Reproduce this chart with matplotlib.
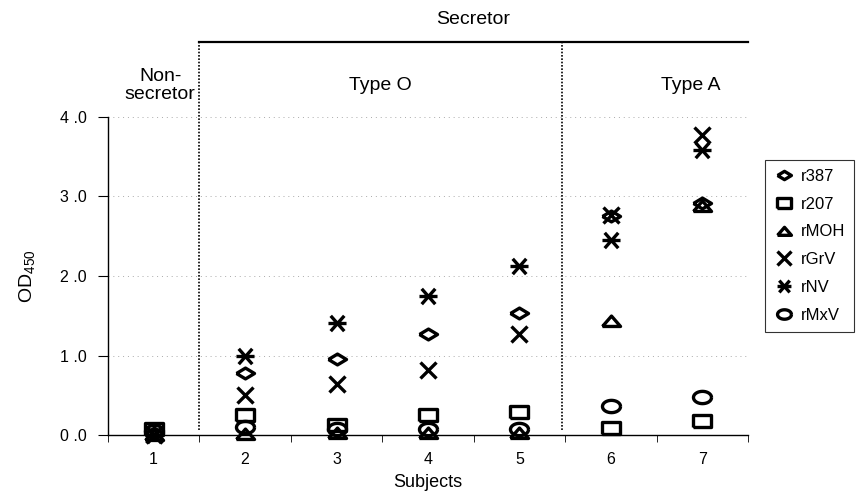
import numpy as np
import matplotlib
matplotlib.use("Agg")
import matplotlib.pyplot as plt
import matplotlib.transforms as mtrans
from matplotlib.path import Path

plt.rcParams['font.family'] = ['Liberation Sans', 'DejaVu Sans']

subjects = [1, 2, 3, 4, 5, 6, 7]
r387 = [0.02, 0.78, 0.95, 1.27, 1.54, 2.75, 2.92]
r207 = [0.08, 0.25, 0.12, 0.25, 0.29, 0.09, 0.18]
rMOH = [0.0, 0.01, 0.02, 0.02, 0.02, 1.44, 2.88]
rGrV = [0.0, 0.50, 0.64, 0.82, 1.27, 2.77, 3.77]
rNV = [0.0, 1.00, 1.41, 1.75, 2.13, 2.45, 3.58]
rMxV = [0.05, 0.10, 0.08, 0.08, 0.08, 0.36, 0.48]

# marker shapes
diamond = [(-1, 0), (0, 0.6), (1, 0), (0, -0.6), (-1, 0)]
rect = [(-1, -0.68), (1, -0.68), (1, 0.68), (-1, 0.68), (-1, -0.68)]
tri = [(-1, -0.55), (1, -0.55), (0, 0.6), (-1, -0.55)]
t = np.linspace(0, 2 * np.pi, 41)
ellipse = list(zip(np.cos(t), 0.68 * np.sin(t)))
star = Path([(-0.75, -0.85), (0.75, 0.85), (-0.75, 0.85), (0.75, -0.85), (-1, 0), (1, 0)],
            [Path.MOVETO, Path.LINETO, Path.MOVETO, Path.LINETO, Path.MOVETO, Path.LINETO])

series = [
    ("r387", r387, diamond, 13),
    ("r207", r207, rect, 13),
    ("rMOH", rMOH, tri, 13),
    ("rGrV", rGrV, "x", 11),
    ("rNV", rNV, star, 13),
    ("rMxV", rMxV, ellipse, 13),
]

fig = plt.figure(figsize=(8.56, 4.93), dpi=100)
ax = fig.add_axes([0.126, 0.1176, 0.748, 0.6451])

for name, vals, m, ms in series:
    ax.plot(subjects, vals, linestyle="none", marker=m, markersize=ms,
            markerfacecolor="none", markeredgecolor="black", markeredgewidth=2.4,
            label=name, clip_on=False, zorder=3)

ax.set_xlim(0.5, 7.5)
ax.set_ylim(0, 4.0)
ax.set_yticks([0, 1, 2, 3, 4])
ax.set_yticklabels(["0 .0", "1 .0", "2 .0", "3 .0", "4 .0"], fontsize=11.5)
ax.set_xticks(subjects)
ax.set_xticklabels([str(s) for s in subjects], fontsize=11.5)
ax.tick_params(axis="x", length=0, pad=12)
ax.set_xticks(np.arange(0.5, 8, 1), minor=True)
ax.tick_params(axis="x", which="minor", length=5, direction="out")
ax.tick_params(axis="y", length=7, direction="out", pad=8)
ax.spines["top"].set_visible(False)
ax.spines["right"].set_visible(False)
for sp in ("left", "bottom"):
    ax.spines[sp].set_linewidth(1.0)

for yv in [1, 2, 3, 4]:
    ax.axhline(yv, color="#aaaaaa", linestyle=(0, (1, 4)), linewidth=0.7, zorder=0)

ax.set_xlabel("Subjects", fontsize=13, labelpad=5)
ax.set_ylabel("OD$_{\\mathregular{450}}$", fontsize=14, labelpad=16)

trans = mtrans.blended_transform_factory(ax.transData, ax.transAxes)
for xv in [1.5, 5.46]:
    ax.plot([xv, xv], [0.016, 1.236], transform=trans, color="black",
            linestyle=(0, (1, 1)), linewidth=1.2, clip_on=False)
ax.plot([1.5, 7.5], [1.236, 1.236], transform=trans, color="black",
        linewidth=1.6, clip_on=False)

ax.text(4.49, 1.305, "Secretor", transform=trans, ha="center", va="center", fontsize=14)
ax.text(1.46, 1.10, "Non-\nsecretor", transform=trans, ha="right", va="center",
        fontsize=14, multialignment="center", linespacing=1.1)
ax.text(3.48, 1.10, "Type O", transform=trans, ha="center", va="center", fontsize=14)
ax.text(6.87, 1.10, "Type A", transform=trans, ha="center", va="center", fontsize=14)

leg = fig.legend(loc="upper left", bbox_to_anchor=(765 / 856, 1 - 160 / 493),
                 bbox_transform=fig.transFigure, fontsize=12, frameon=True,
                 fancybox=False, borderaxespad=0, handletextpad=0.4,
                 handlelength=1.2, labelspacing=0.76, borderpad=0.55)
leg.get_frame().set_edgecolor("black")
leg.get_frame().set_linewidth(0.8)
for h in leg.legend_handles:
    h.set_markersize(10)

fig.savefig("out.png", dpi=100)
